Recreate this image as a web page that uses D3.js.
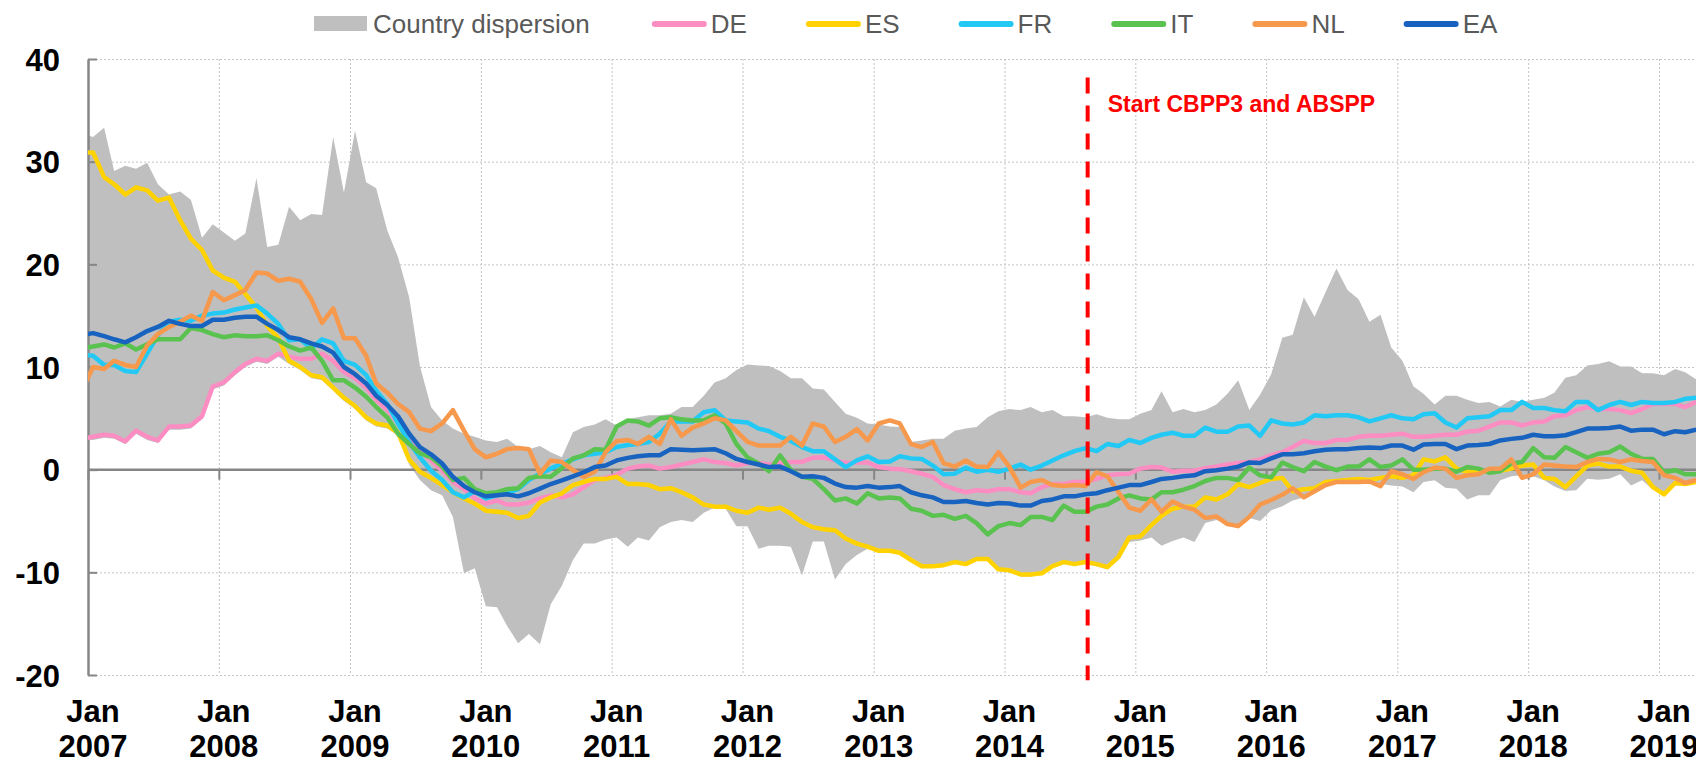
<!DOCTYPE html>
<html>
<head>
<meta charset="utf-8">
<script src="https://cdn.jsdelivr.net/npm/d3@7"></script>
<style>
  body { margin: 0; background: #fff; }
  svg { display: block; font-family: "Liberation Sans", Arial, sans-serif; }
</style>
</head>
<body>
<svg id="chart" width="1696" height="764"></svg>
<script>
// monthly values, Dec 2006 .. Apr 2019 (149 months)
var firstMonth = new Date(2006, 11, 15);

var upper = [32.8,
  32.4, 33.3, 29.1, 29.6, 29.3, 29.9, 27.8, 26.8, 27.1, 26.3, 22.6, 23.9,
  23.1, 22.3, 23.0, 28.4, 21.7, 21.9, 25.6, 24.3, 24.9, 24.8, 32.4, 27.0,
  33.0, 28.0, 27.4, 23.3, 20.7, 16.8, 10.1, 6.1, 4.8, 4.0, 3.5, 3.2,
  2.85, 2.7, 3.0, 2.2, 2.0, 2.3, 1.7, 1.2, 3.65, 4.15, 4.4, 4.9,
  4.3, 4.9, 5.1, 5.3, 5.3, 5.45, 6.1, 6.1, 7.2, 8.5, 8.9, 9.7,
  10.25, 10.15, 10.1, 9.6, 8.9, 8.9, 7.9, 7.8, 6.6, 5.45, 5.05, 4.5,
  4.4, 4.2, 4.15, 2.7, 2.85, 3.0, 3.0, 3.8, 4.0, 4.15, 5.1, 5.7,
  5.9, 5.8, 6.1, 5.6, 5.8, 5.2, 5.2, 5.1, 5.4, 5.05, 4.9, 4.9,
  5.45, 5.8, 7.65, 5.6, 5.9, 5.6, 5.8, 6.35, 7.4, 8.7, 5.8, 7.3,
  9.3, 12.85, 13.15, 16.8, 14.9, 17.3, 19.6, 17.5, 16.6, 14.4, 15.1, 11.9,
  10.6, 8.1, 7.4, 6.35, 7.2, 7.2, 6.8, 6.5, 6.6, 6.15, 6.8, 6.6,
  6.8, 7.0, 7.5, 8.95, 9.2, 10.15, 10.3, 10.55, 10.05, 10.05, 9.4, 9.4,
  9.2, 9.8, 9.5, 8.8];

var lower = [2.8,
  2.9, 3.1, 3.0, 2.5, 3.5, 2.9, 2.6, 3.9, 3.9, 4.0, 4.9, 7.8,
  8.2, 9.2, 10.0, 10.5, 10.3, 11.0, 10.3, 9.7, 8.9, 8.7, 7.7, 6.7,
  5.9, 4.8, 4.2, 4.0, 3.3, 0.5, -1.0, -2.0, -2.5, -4.6, -10.1, -9.6,
  -13.3, -13.4, -15.2, -16.9, -16.0, -17.0, -13.1, -11.3, -8.8, -7.2, -7.2, -6.8,
  -6.6, -7.5, -6.6, -6.9, -5.6, -5.1, -4.9, -5.1, -4.2, -3.7, -3.8, -5.5,
  -5.5, -7.7, -7.4, -7.4, -7.5, -10.3, -7.0, -7.0, -10.7, -9.2, -8.3, -7.7,
  -8.0, -8.1, -8.25, -8.9, -9.5, -9.5, -9.4, -9.2, -9.3, -8.8, -8.8, -9.9,
  -10.0, -10.4, -10.4, -10.2, -9.5, -9.2, -9.3, -9.2, -9.4, -9.7, -8.8, -7.05,
  -6.9, -6.6, -7.4, -6.95, -6.6, -7.05, -5.2, -4.9, -5.3, -5.5, -4.7, -5.0,
  -3.96, -3.57, -3.0, -2.7, -1.95, -1.63, -1.2, -1.3, -1.2, -1.37, -1.37, -1.53,
  -1.63, -2.2, -1.2, -1.04, -1.75, -1.85, -2.9, -2.5, -2.5, -1.04, -0.65, -0.55,
  -0.65, -1.04, -1.63, -2.08, -2.0, -0.88, -0.97, -0.88, -0.45, -1.53, -1.04, -1.95,
  -2.5, -1.53, -1.53, -1.3];

var DE = [3.0,
  3.2, 3.4, 3.3, 2.75, 3.8, 3.2, 2.85, 4.2, 4.2, 4.3, 5.2, 8.1,
  8.5, 9.5, 10.3, 10.8, 10.6, 11.3, 11.0, 10.8, 10.8, 11.3, 10.6, 9.5,
  8.9, 8.0, 6.8, 5.8, 4.6, 3.3, 1.8, 0.9, -0.1, -1.2, -1.9, -2.8,
  -3.3, -3.0, -3.4, -3.4, -3.2, -2.8, -2.5, -2.7, -2.4, -1.7, -1.0, -0.8,
  -0.5, 0.1, 0.3, 0.4, 0.1, 0.25, 0.5, 0.75, 1.0, 0.75, 0.65, 0.4,
  0.65, 0.65, 0.5, 0.65, 0.75, 0.75, 1.15, 1.2, 0.9, 0.65, 0.7, 0.7,
  0.25, 0.1, 0.05, -0.15, -0.4, -0.7, -1.5, -1.9, -2.2, -2.0, -2.1, -1.9,
  -1.9, -2.2, -2.3, -1.7, -1.4, -1.4, -1.2, -1.2, -0.9, -0.55, -0.45, -0.4,
  0.1, 0.25, 0.2, -0.2, -0.1, -0.1, 0.15, 0.3, 0.5, 0.65, 0.75, 1.0,
  1.4, 1.7, 2.2, 2.8, 2.6, 2.6, 2.9, 2.9, 3.2, 3.3, 3.3, 3.4,
  3.5, 3.2, 3.2, 3.3, 3.4, 3.4, 3.7, 3.8, 4.2, 4.6, 4.6, 4.3,
  4.6, 4.7, 5.2, 5.3, 5.8, 6.1, 5.9, 5.9, 5.8, 5.5, 5.9, 6.4,
  6.4, 6.4, 6.1, 6.6];

var ES = [30.9,
  30.9, 28.5, 27.8, 26.8, 27.5, 27.2, 26.2, 26.5, 24.3, 22.5, 21.4, 19.4,
  18.7, 18.3, 17.1, 15.8, 14.0, 12.8, 10.6, 10.0, 9.2, 9.0, 8.0, 7.0,
  6.2, 5.1, 4.5, 4.3, 3.6, 1.0, -0.2, -0.8, -1.5, -2.2, -2.8, -3.3,
  -4.0, -4.1, -4.2, -4.7, -4.5, -3.2, -2.7, -2.3, -1.5, -1.2, -0.9, -0.9,
  -0.7, -1.4, -1.4, -1.5, -1.9, -1.8, -2.2, -2.7, -3.4, -3.6, -3.6, -4.0,
  -4.2, -3.7, -3.9, -3.7, -4.3, -5.1, -5.6, -5.8, -5.9, -6.7, -7.2, -7.5,
  -7.9, -7.9, -8.1, -8.8, -9.4, -9.4, -9.3, -9.0, -9.2, -8.7, -8.7, -9.7,
  -9.8, -10.2, -10.2, -10.1, -9.4, -9.0, -9.2, -9.0, -9.2, -9.5, -8.5, -6.6,
  -6.5, -5.4, -4.5, -3.8, -3.6, -3.6, -2.7, -2.9, -2.4, -1.4, -1.7, -1.3,
  -0.9, -0.8, -2.1, -1.9, -1.8, -1.2, -1.1, -1.0, -0.9, -1.0, -0.8, -0.65,
  -0.8, -0.55, 1.0, 0.8, 1.2, 0.1, -0.2, -0.2, -0.1, -0.1, 0.1, 0.4,
  0.5, -0.8, -0.9, -1.7, -0.65, 0.4, 0.6, 0.3, 0.3, -0.1, -0.3, -1.7,
  -2.4, -1.3, -1.4, -1.2];

var FR = [11.2,
  11.1, 10.2, 10.2, 9.6, 9.5, 11.3, 13.1, 14.4, 14.6, 14.5, 15.0, 15.2,
  15.3, 15.6, 15.8, 16.0, 15.2, 14.2, 12.6, 12.7, 11.8, 12.7, 12.3, 10.6,
  10.2, 9.2, 7.7, 6.4, 4.5, 2.7, 1.2, -0.1, -1.0, -2.2, -2.7, -2.1,
  -2.8, -2.5, -2.3, -1.9, -1.0, -0.4, 0.1, 0.6, 1.0, 1.4, 1.55, 1.7,
  2.2, 2.4, 2.5, 2.7, 3.5, 4.7, 4.7, 4.7, 5.6, 5.8, 4.8, 4.7,
  4.6, 4.0, 3.75, 3.2, 2.8, 2.2, 1.8, 1.8, 1.0, 0.25, 0.9, 1.3,
  0.75, 0.8, 1.3, 1.1, 1.05, 0.4, -0.45, -0.4, 0.2, -0.2, 0.0, -0.2,
  0.1, 0.5, 0.0, 0.4, 0.9, 1.4, 1.8, 2.1, 1.8, 2.5, 2.3, 2.9,
  2.6, 3.1, 3.4, 3.6, 3.3, 3.3, 4.1, 3.7, 3.7, 4.2, 4.3, 3.3,
  4.8, 4.5, 4.4, 4.6, 5.3, 5.2, 5.3, 5.3, 5.1, 4.7, 5.0, 5.3,
  5.0, 4.9, 5.4, 5.5, 4.6, 4.1, 5.0, 5.1, 5.2, 5.8, 5.8, 6.6,
  6.0, 6.0, 5.8, 5.7, 6.6, 6.6, 5.8, 6.3, 6.6, 6.3, 6.6, 6.5,
  6.5, 6.6, 6.9, 7.0];

var IT = [11.8,
  12.0, 12.2, 11.9, 12.3, 11.7, 12.2, 12.7, 12.7, 12.7, 13.8, 13.6, 13.2,
  12.9, 13.1, 13.0, 13.0, 13.1, 12.6, 12.0, 11.6, 11.9, 10.6, 8.7, 8.7,
  8.0, 7.1, 6.1, 5.1, 3.5, 2.5, 1.6, 1.2, 0.3, -1.0, -0.8, -1.9,
  -2.3, -2.2, -1.9, -1.8, -0.8, -0.65, -0.7, 0.15, 1.1, 1.4, 2.0, 1.95,
  4.2, 4.8, 4.7, 4.3, 5.0, 5.1, 4.9, 4.8, 4.8, 5.3, 4.5, 2.5,
  1.2, 0.6, -0.15, 1.4, -0.05, -0.7, -0.9, -1.9, -3.0, -2.8, -3.3, -2.3,
  -2.8, -2.7, -2.8, -3.8, -4.0, -4.5, -4.4, -4.8, -4.5, -5.2, -6.3, -5.5,
  -5.2, -5.4, -4.6, -4.6, -4.9, -3.5, -4.1, -4.1, -3.6, -3.4, -2.8, -2.5,
  -2.8, -2.9, -2.2, -2.2, -1.95, -1.6, -1.1, -0.8, -0.8, -1.0, 0.2, -0.55,
  -0.75, 0.7, 0.25, -0.15, 0.75, 0.3, -0.05, 0.3, 0.3, 1.0, 0.25, 0.4,
  1.0, 0.0, 0.0, 0.1, 0.1, -0.2, 0.25, 0.1, -0.3, -0.15, 0.6, 0.75,
  2.1, 1.2, 1.15, 2.2, 1.7, 1.15, 1.55, 1.7, 2.25, 1.55, 1.05, 1.05,
  -0.25, -0.05, -0.45, -0.45];

var NL = [7.7,
  10.0, 9.8, 10.6, 10.2, 10.0, 12.1, 13.2, 13.9, 14.4, 15.0, 14.5, 17.3,
  16.5, 17.0, 17.5, 19.2, 19.1, 18.4, 18.6, 18.3, 16.6, 14.3, 15.7, 12.8,
  12.8, 11.1, 8.4, 7.5, 6.4, 5.6, 4.0, 3.75, 4.5, 5.8, 3.8, 2.0,
  1.2, 1.55, 2.0, 2.1, 2.0, -0.4, 0.9, 0.75, -0.05, -0.7, -0.2, 1.7,
  2.8, 2.9, 2.5, 3.2, 2.5, 4.9, 3.3, 4.1, 4.5, 5.0, 4.8, 3.75,
  2.7, 2.35, 2.35, 2.35, 3.2, 2.35, 4.5, 4.2, 2.7, 3.2, 3.95, 2.85,
  4.5, 4.8, 4.5, 2.5, 2.2, 2.7, 0.65, 0.3, 0.9, 0.3, 0.25, 1.7,
  0.25, -1.75, -1.2, -1.0, -1.5, -1.6, -1.5, -1.6, -0.25, -0.65, -2.2, -3.7,
  -4.0, -2.9, -4.1, -3.1, -3.6, -3.9, -4.7, -4.55, -5.3, -5.5, -4.6, -3.4,
  -2.95, -2.45, -1.8, -2.7, -2.1, -1.5, -1.2, -1.2, -1.2, -1.15, -1.6, -0.15,
  -0.45, -0.9, -0.25, 0.2, 0.1, -0.8, -0.55, -0.45, 0.1, 0.1, 1.0, -0.8,
  -0.45, 0.5, 0.4, 0.3, 0.25, 0.75, 1.05, 1.0, 0.75, 1.0, 0.85, 0.75,
  -0.55, -0.8, -1.3, -1.0];

var EA = [13.1,
  13.3, 13.0, 12.7, 12.4, 12.9, 13.5, 13.9, 14.5, 14.2, 14.0, 14.0, 14.6,
  14.6, 14.8, 14.9, 14.9, 14.2, 13.6, 12.9, 12.7, 12.3, 12.0, 11.4, 10.0,
  9.3, 8.4, 7.2, 6.3, 5.2, 3.5, 2.2, 1.5, 0.6, -0.7, -1.6, -2.2,
  -2.6, -2.5, -2.4, -2.6, -2.3, -1.85, -1.4, -1.05, -0.65, -0.25, 0.25, 0.4,
  0.9, 1.15, 1.3, 1.4, 1.4, 2.0, 1.95, 1.9, 1.95, 2.0, 1.6, 1.05,
  0.75, 0.5, 0.25, 0.3, -0.15, -0.7, -0.65, -0.8, -1.35, -1.7, -1.75, -1.6,
  -1.75, -1.7, -1.6, -2.2, -2.5, -2.7, -3.15, -3.15, -3.05, -3.25, -3.4, -3.25,
  -3.3, -3.5, -3.5, -3.05, -2.9, -2.6, -2.6, -2.4, -2.3, -2.0, -1.75, -1.5,
  -1.5, -1.2, -0.9, -0.8, -0.65, -0.55, -0.15, -0.05, 0.1, 0.3, 0.7, 0.65,
  1.1, 1.5, 1.5, 1.6, 1.8, 1.95, 2.0, 2.0, 2.1, 2.15, 2.1, 2.35,
  2.35, 1.95, 2.45, 2.5, 2.5, 2.0, 2.35, 2.4, 2.5, 2.85, 3.0, 3.1,
  3.4, 3.25, 3.25, 3.35, 3.65, 4.0, 4.0, 4.05, 4.2, 3.8, 3.9, 3.9,
  3.45, 3.75, 3.65, 3.9];

var seriesNames = ["DE", "ES", "FR", "IT", "NL", "EA"];
var seriesValues = [DE, ES, FR, IT, NL, EA];
var seriesColors = ["#fc8dc2", "#ffd200", "#22c9f5", "#5ac350", "#f7994c", "#1763bf"];
var bandName = "Country dispersion";

var yTicks = [-20, -10, 0, 10, 20, 30, 40];
var tickYears = d3.range(2007, 2020);
var eventDate = new Date(2014, 7, 21);
var eventLabel = "Start CBPP3 and ABSPP";

// ---- layout
var svg = d3.select("#chart");
var plotLeft = 88, plotRight = 1696, plotTop = 59, plotBottom = 675;

var x = d3.scaleTime()
  .domain([new Date(2007, 0, 1), new Date(2019, 0, 1)])
  .range([plotLeft, 1659]);
var y = d3.scaleLinear().domain([-20, 40]).range([plotBottom, plotTop]);

var dates = upper.map(function (d, i) {
  return new Date(firstMonth.getFullYear(), firstMonth.getMonth() + i, 15);
});

svg.append("clipPath").attr("id", "plot")
  .append("rect").attr("x", plotLeft).attr("y", 0)
  .attr("width", plotRight - plotLeft + 10).attr("height", 764);

// gridlines (dotted)
var grid = svg.append("g").attr("stroke", "#c4c4c4").attr("stroke-width", 1)
  .attr("stroke-dasharray", "2,2");
grid.selectAll(".hg").data(yTicks.filter(function (d) { return d !== 0; }))
  .enter().append("line")
  .attr("x1", plotLeft).attr("x2", plotRight)
  .attr("y1", function (d) { return y(d) + 0.5; })
  .attr("y2", function (d) { return y(d) + 0.5; });
grid.selectAll(".vg").data(tickYears.slice(1))
  .enter().append("line")
  .attr("x1", function (d) { return x(new Date(d, 0, 1)) + 0.5; })
  .attr("x2", function (d) { return x(new Date(d, 0, 1)) + 0.5; })
  .attr("y1", plotTop).attr("y2", plotBottom);

// dispersion band
var area = d3.area()
  .x(function (d, i) { return x(dates[i]); })
  .y0(function (d, i) { return y(lower[i]); })
  .y1(function (d, i) { return y(upper[i]); });
svg.append("path").datum(upper)
  .attr("clip-path", "url(#plot)")
  .attr("fill", "#bfbfbf")
  .attr("d", area);

// x axis at zero
var xAxis = d3.axisBottom(x)
  .tickValues(tickYears.map(function (d) { return new Date(d, 0, 1); }))
  .tickSizeInner(10).tickSizeOuter(0).tickFormat("");
var gx = svg.append("g").attr("transform", "translate(0," + y(0) + ")").call(xAxis);
gx.select(".domain").remove();
gx.append("line").attr("x1", plotLeft).attr("x2", plotRight)
  .attr("stroke", "#868686").attr("stroke-width", 2.5);
gx.selectAll(".tick line").attr("stroke", "#868686").attr("stroke-width", 2);

// y axis (plain hyphen for negatives, as in the original)
var yAxis = d3.axisLeft(y).tickValues(yTicks)
  .tickFormat(function (d) { return String(d); })
  .tickSizeInner(-9).tickSizeOuter(0).tickPadding(28);
var gy = svg.append("g").attr("transform", "translate(" + plotLeft + ",0)").call(yAxis);
gy.select(".domain").attr("stroke", "#868686").attr("stroke-width", 2.5);
gy.selectAll(".tick line").attr("stroke", "#868686").attr("stroke-width", 2);
gy.selectAll(".tick text")
  .attr("font-family", "Liberation Sans, Arial, sans-serif")
  .attr("font-size", 31).attr("font-weight", "bold").attr("fill", "#000")
  .attr("dy", "0.36em");

// x labels, two lines
var xl = svg.append("g").attr("font-size", 31).attr("font-weight", "bold")
  .attr("text-anchor", "middle").attr("fill", "#000");
tickYears.forEach(function (yr) {
  var cx = x(new Date(yr, 0, 15));
  xl.append("text").attr("x", cx).attr("y", 722).text("Jan");
  xl.append("text").attr("x", cx).attr("y", 757).text(yr);
});

// series lines
var line = d3.line()
  .x(function (d, i) { return x(dates[i]); })
  .y(function (d) { return y(d); });
var lines = svg.append("g").attr("clip-path", "url(#plot)");
seriesValues.forEach(function (vals, k) {
  lines.append("path").datum(vals)
    .attr("fill", "none")
    .attr("stroke", seriesColors[k])
    .attr("stroke-width", 4.5)
    .attr("stroke-linejoin", "round")
    .attr("d", line);
});

// event marker
var ex = x(eventDate);
svg.append("line")
  .attr("x1", ex).attr("x2", ex)
  .attr("y1", y(38.2)).attr("y2", y(-20.5))
  .attr("stroke", "#ff0000").attr("stroke-width", 4)
  .attr("stroke-dasharray", "16,12");
svg.append("text")
  .attr("x", ex + 20).attr("y", 112)
  .attr("fill", "#ff0000").attr("font-size", 23).attr("font-weight", "bold")
  .text(eventLabel);

// legend
var lg = svg.append("g").attr("font-size", 26).attr("fill", "#595959");
var lx = 314;
lg.append("rect").attr("x", lx).attr("y", 16).attr("width", 53).attr("height", 15)
  .attr("fill", "#bfbfbf");
var t0 = lg.append("text").attr("x", lx + 59).attr("y", 33).text(bandName);
lx = lx + 59 + t0.node().getComputedTextLength() + 62;
seriesNames.forEach(function (name, k) {
  lg.append("line")
    .attr("x1", lx + 3).attr("x2", lx + 52)
    .attr("y1", 24).attr("y2", 24)
    .attr("stroke", seriesColors[k]).attr("stroke-width", 6)
    .attr("stroke-linecap", "round");
  var t = lg.append("text").attr("x", lx + 59).attr("y", 33).text(name);
  lx = lx + 59 + t.node().getComputedTextLength() + 59;
});
</script>
</body>
</html>
